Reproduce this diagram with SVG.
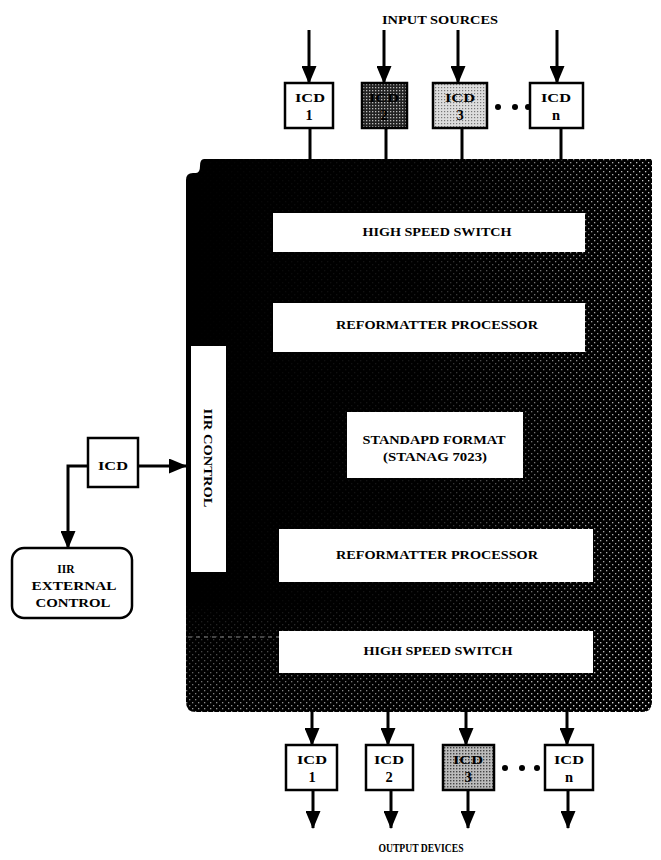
<svg xmlns="http://www.w3.org/2000/svg" width="661" height="860" viewBox="0 0 661 860">
<defs>
<style>
text{font-family:"Liberation Serif","Times New Roman",serif;font-weight:bold;fill:#000;text-anchor:middle;}
.lbl{font-size:11.5px;}
.icd{font-size:13.5px;}
.num{font-size:14.5px;}
.wb{fill:#fff;stroke:none;}
.box{stroke:#000;stroke-width:2.5;}
.ln{stroke:#000;stroke-width:3;fill:none;}
</style>
<marker id="ah" viewBox="0 0 18 15" refX="17" refY="7.5" markerWidth="18" markerHeight="15" markerUnits="userSpaceOnUse" orient="auto">
<path d="M0,0 L18,7.5 L0,15 Z" fill="#000"/>
</marker>
<pattern id="dots" width="6" height="6" patternUnits="userSpaceOnUse">
<rect x="0" y="0" width="1.3" height="1.3" fill="#fff"/>
<rect x="3" y="3" width="1.3" height="1.3" fill="#fff"/>
</pattern>
<pattern id="dark" width="3" height="3" patternUnits="userSpaceOnUse">
<rect width="3" height="3" fill="#222"/>
<rect x="0" y="0" width="1.3" height="1.3" fill="#bbb"/>
</pattern>
<pattern id="light" width="3" height="3" patternUnits="userSpaceOnUse">
<rect width="3" height="3" fill="#ddd"/>
<rect x="0" y="0" width="1.2" height="1.2" fill="#777"/>
</pattern>
<pattern id="mid" width="3" height="3" patternUnits="userSpaceOnUse">
<rect width="3" height="3" fill="#bbb"/>
<rect x="0" y="0" width="1.4" height="1.4" fill="#444"/>
</pattern>
<linearGradient id="gx" x1="0" y1="0" x2="1" y2="0">
<stop offset="0" stop-color="#fff" stop-opacity="0"/>
<stop offset="0.5" stop-color="#fff" stop-opacity="0.1"/>
<stop offset="0.85" stop-color="#fff" stop-opacity="0.6"/>
<stop offset="1" stop-color="#fff" stop-opacity="0.8"/>
</linearGradient>
<linearGradient id="gy" x1="0" y1="0" x2="0" y2="1">
<stop offset="0" stop-color="#fff" stop-opacity="0"/>
<stop offset="0.8" stop-color="#fff" stop-opacity="0"/>
<stop offset="1" stop-color="#fff" stop-opacity="0.6"/>
</linearGradient>
<mask id="mx"><rect x="186" y="159" width="466" height="553" fill="url(#gx)"/></mask>
<mask id="my"><rect x="186" y="159" width="466" height="553" fill="url(#gy)"/></mask>
</defs>

<rect width="661" height="860" fill="#fff"/>

<g id="main-unit">
<path d="M204,159 H652 V702 Q652,712 642,712 H196 Q186,712 186,702 V180 Q186,173 193,173 H196 Q200,173 200,166 Q200,159 204,159 Z" fill="#000"/>
<rect x="186" y="159" width="466" height="553" fill="url(#dots)" mask="url(#mx)"/>
<rect x="186" y="159" width="466" height="553" fill="url(#dots)" mask="url(#my)"/>
<line x1="188" y1="637" x2="279" y2="637" stroke="#888" stroke-width="1" stroke-dasharray="4 4"/>
</g>

<g id="hss-top"><rect class="wb" x="273" y="213" width="312" height="39"/><text class="lbl" x="437" y="236" textLength="149" lengthAdjust="spacingAndGlyphs">HIGH SPEED SWITCH</text></g>
<g id="reformatter-top"><rect class="wb" x="273" y="303" width="312" height="49"/><text class="lbl" x="437" y="329" textLength="202" lengthAdjust="spacingAndGlyphs">REFORMATTER PROCESSOR</text></g>
<g id="standard-format"><rect class="wb" x="347" y="412" width="176" height="66"/><text class="lbl" x="434" y="444" textLength="143" lengthAdjust="spacingAndGlyphs">STANDAPD FORMAT</text><text class="lbl" x="435" y="461" textLength="104" lengthAdjust="spacingAndGlyphs">(STANAG 7023)</text></g>
<g id="reformatter-bottom"><rect class="wb" x="279" y="529" width="314" height="53"/><text class="lbl" x="437" y="559" textLength="202" lengthAdjust="spacingAndGlyphs">REFORMATTER PROCESSOR</text></g>
<g id="hss-bottom"><rect class="wb" x="279" y="631" width="314" height="42"/><text class="lbl" x="438" y="655" textLength="149" lengthAdjust="spacingAndGlyphs">HIGH SPEED SWITCH</text></g>
<g id="iir-control"><rect class="wb" x="191" y="346" width="35" height="226"/><text class="lbl" transform="translate(204,458) rotate(90)" x="0" y="0" textLength="99" lengthAdjust="spacingAndGlyphs">IIR CONTROL</text></g>

<g id="connectors">
<line class="ln" x1="309" y1="30" x2="309" y2="83" marker-end="url(#ah)"/>
<line class="ln" x1="384" y1="30" x2="384" y2="83" marker-end="url(#ah)"/>
<line class="ln" x1="458" y1="30" x2="458" y2="83" marker-end="url(#ah)"/>
<line class="ln" x1="557" y1="30" x2="557" y2="83" marker-end="url(#ah)"/>
<line class="ln" x1="310" y1="128" x2="310" y2="160"/>
<line class="ln" x1="386" y1="128" x2="386" y2="160"/>
<line class="ln" x1="462" y1="128" x2="462" y2="160"/>
<line class="ln" x1="561" y1="128" x2="561" y2="160"/>
<line class="ln" x1="312" y1="711" x2="312" y2="745" marker-end="url(#ah)"/>
<line class="ln" x1="388" y1="711" x2="388" y2="745" marker-end="url(#ah)"/>
<line class="ln" x1="466" y1="711" x2="466" y2="745" marker-end="url(#ah)"/>
<line class="ln" x1="567" y1="711" x2="567" y2="745" marker-end="url(#ah)"/>
<line class="ln" x1="313" y1="790" x2="313" y2="828" marker-end="url(#ah)"/>
<line class="ln" x1="391" y1="790" x2="391" y2="828" marker-end="url(#ah)"/>
<line class="ln" x1="468" y1="790" x2="468" y2="828" marker-end="url(#ah)"/>
<line class="ln" x1="568" y1="790" x2="568" y2="828" marker-end="url(#ah)"/>
<line class="ln" x1="138" y1="466" x2="186" y2="466" marker-end="url(#ah)"/>
<polyline class="ln" points="88,466 68,466 68,548" marker-end="url(#ah)"/>
</g>

<g id="icd-in-1"><rect class="box" x="285" y="83" width="48" height="45" fill="#fff"/><text class="icd" x="310" y="102" textLength="30" lengthAdjust="spacingAndGlyphs">ICD</text><text class="num" x="309" y="120">1</text></g>
<g id="icd-in-2"><rect class="box" x="362" y="83" width="45" height="45" fill="url(#dark)"/><text class="icd" x="384" y="102" fill="#333" textLength="30" lengthAdjust="spacingAndGlyphs">ICD</text><text class="num" x="384" y="120" fill="#333">2</text></g>
<g id="icd-in-3"><rect class="box" x="433" y="83" width="54" height="45" fill="url(#light)"/><text class="icd" x="460" y="102" textLength="30" lengthAdjust="spacingAndGlyphs">ICD</text><text class="num" x="460" y="120">3</text></g>
<g id="dots-in"><circle cx="498" cy="107" r="3"/><circle cx="515" cy="107" r="3"/><circle cx="528" cy="107" r="3"/></g>
<g id="icd-in-n"><rect class="box" x="530" y="83" width="53" height="45" fill="#fff"/><text class="icd" x="556" y="102" textLength="30" lengthAdjust="spacingAndGlyphs">ICD</text><text class="num" x="556" y="120">n</text></g>

<g id="icd-out-1"><rect class="box" x="286" y="745" width="51" height="45" fill="#fff"/><text class="icd" x="312" y="764" textLength="30" lengthAdjust="spacingAndGlyphs">ICD</text><text class="num" x="312" y="782">1</text></g>
<g id="icd-out-2"><rect class="box" x="366" y="745" width="47" height="45" fill="#fff"/><text class="icd" x="389" y="764" textLength="30" lengthAdjust="spacingAndGlyphs">ICD</text><text class="num" x="389" y="782">2</text></g>
<g id="icd-out-3"><rect class="box" x="443" y="745" width="51" height="45" fill="url(#mid)"/><text class="icd" x="468" y="764" textLength="30" lengthAdjust="spacingAndGlyphs">ICD</text><text class="num" x="468" y="782">3</text></g>
<g id="dots-out"><circle cx="505" cy="768" r="3"/><circle cx="522" cy="768" r="3"/><circle cx="537" cy="768" r="3"/></g>
<g id="icd-out-n"><rect class="box" x="545" y="745" width="48" height="45" fill="#fff"/><text class="icd" x="569" y="764" textLength="30" lengthAdjust="spacingAndGlyphs">ICD</text><text class="num" x="569" y="782">n</text></g>

<g id="icd-left"><rect class="box" x="88" y="438" width="50" height="49" fill="#fff"/><text class="icd" x="113" y="470" textLength="30" lengthAdjust="spacingAndGlyphs">ICD</text></g>
<g id="iir-external"><rect class="box" x="12" y="548" width="120" height="70" rx="12" fill="#fff"/><text class="lbl" x="66" y="573" font-size="13">IIR</text><text class="lbl" x="74" y="590" font-size="12.5" textLength="85" lengthAdjust="spacingAndGlyphs">EXTERNAL</text><text class="lbl" x="73" y="607" font-size="12.5" textLength="75" lengthAdjust="spacingAndGlyphs">CONTROL</text></g>

<g id="titles"><text class="lbl" x="440" y="24" textLength="116" lengthAdjust="spacingAndGlyphs">INPUT SOURCES</text><text class="lbl" x="421" y="852" textLength="85" lengthAdjust="spacingAndGlyphs">OUTPUT DEVICES</text></g>
</svg>
